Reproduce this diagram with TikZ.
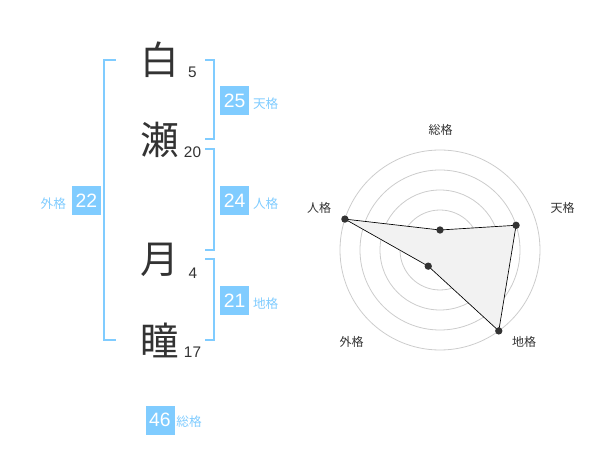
\documentclass[tikz,border=0pt]{standalone}
\usepackage{fontspec}
\setmainfont{Liberation Sans}
\newfontfamily\jpfont{Noto Sans CJK JP}
\definecolor{ink}{HTML}{333333}
\definecolor{sky}{HTML}{80CCFF}
\definecolor{ringgray}{HTML}{CCCCCC}
\definecolor{areagray}{HTML}{F2F2F2}

\begin{document}
\begin{tikzpicture}
[
    x=0.75pt, y=-0.75pt,
    kanji/.style={font=\jpfont\fontsize{29}{29}\selectfont, text=ink, inner sep=0},
    strokes/.style={font=\fontsize{11.5}{12}\selectfont, text=ink, inner sep=0},
    score/.style={fill=sky, text=white, minimum size=21.75pt, inner sep=0, font=\fontsize{14.5}{15}\selectfont},
    kaku/.style={font=\jpfont\fontsize{9.5}{10}\selectfont, text=sky, inner sep=0},
    bracket/.style={draw=sky, line width=1.5pt},
    ring/.style={draw=ringgray, line width=0.6pt},
    axislabel/.style={font=\jpfont\fontsize{9}{10}\selectfont, text=ink, inner sep=0},
    dot/.style={circle, fill=ink, inner sep=0, minimum size=5.5pt},
]
\useasboundingbox (0,0) rectangle (600,470);

% name and stroke counts
\node [kanji] (c1) at (160,60) {白};
\node [kanji] (c2) at (160,140) {瀬};
\node [kanji] (c3) at (160,260) {月};
\node [kanji] (c4) at (160,340) {瞳};
\node [strokes] (s1) at (192.5,72) {5};
\node [strokes] (s2) at (192.5,152.5) {20};
\node [strokes] (s3) at (193,273) {4};
\node [strokes] (s4) at (192.5,352.5) {17};

% brackets
\coordinate (gl1) at (115.7,60);  \coordinate (gl2) at (115.7,340);
\coordinate (tn1) at (205,60);    \coordinate (tn2) at (205,139);
\coordinate (jn1) at (205,149);   \coordinate (jn2) at (205,250);
\coordinate (ch1) at (205,259);   \coordinate (ch2) at (205,340);
\draw [bracket] (gl1) -- ++(-11.4,0) |- (gl2);
\draw [bracket] (tn1) -- ++(9.3,0) |- (tn2);
\draw [bracket] (jn1) -- ++(9.3,0) |- (jn2);
\draw [bracket] (ch1) -- ++(9.3,0) |- (ch2);

% scores
\node [score] (tenkaku) at (234.7,100.5) {25};
\node [score] (jinkaku) at (234.7,200.5) {24};
\node [score] (chikaku) at (234.7,300.5) {21};
\node [score] (gaikaku) at (86.3,200.5) {22};
\node [score] (soukaku) at (160,420) {46};
\node [kaku] at (265.7,104) {天格};
\node [kaku] at (265.7,204) {人格};
\node [kaku] at (265.7,304) {地格};
\node [kaku] at (53.3,204) {外格};
\node [kaku] at (189,422) {総格};

% radar chart
\coordinate (o) at (440,250);
\foreach \r in {20,40,...,100}
    \draw [ring] (o) circle (\r);
\fill [ringgray] (o) circle (2.6pt);
\path (o) ++(-90:20)  coordinate (p1)
      (o) ++(-18:80)  coordinate (p2)
      (o) ++(54:100)  coordinate (p3)
      (o) ++(126:20)  coordinate (p4)
      (o) ++(198:100) coordinate (p5);
\draw [fill=areagray, draw=black, line width=0.5pt] (p1) -- (p2) -- (p3) -- (p4) -- (p5) -- cycle;
\foreach \p in {p1,p2,p3,p4,p5}
    \node [dot] at (\p) {};
\node [axislabel] (a1) at (440.7,130) {総格};
\node [axislabel] (a2) at (562.5,208) {天格};
\node [axislabel] (a3) at (524,342) {地格};
\node [axislabel] (a4) at (351.7,342) {外格};
\node [axislabel] (a5) at (319,208) {人格};
\end{tikzpicture}
\end{document}
